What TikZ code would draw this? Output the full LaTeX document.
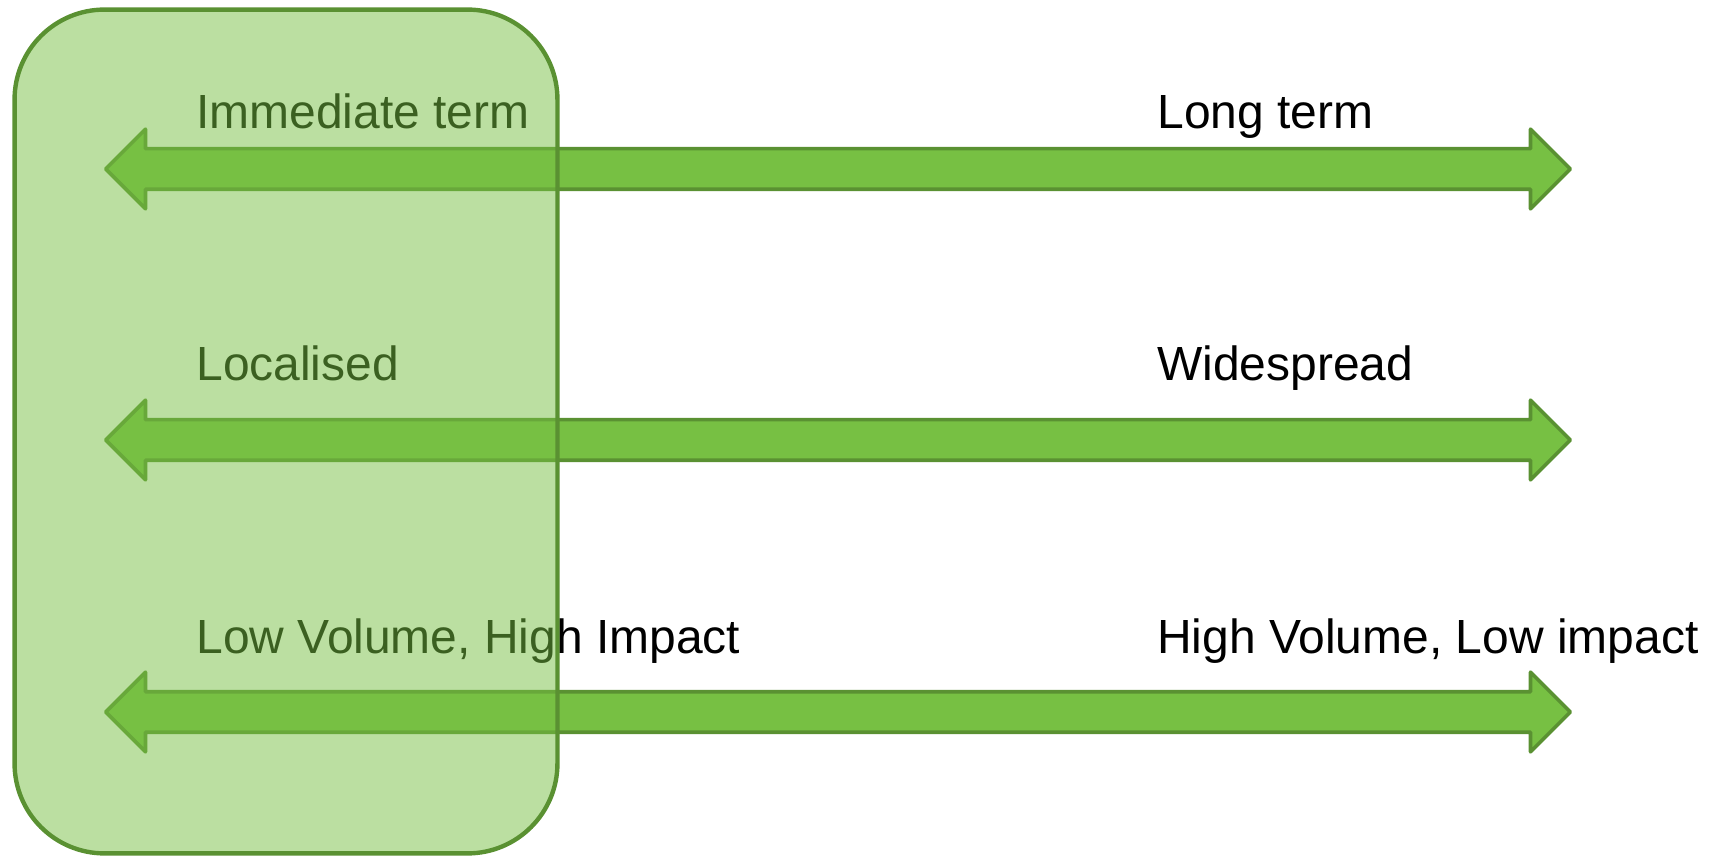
\documentclass[tikz,border=0pt]{standalone}
\usepackage{fontspec}
\setmainfont{Liberation Sans}
\usepackage{tikz}
\usetikzlibrary{positioning,shapes.arrows}
\definecolor{sfill}{HTML}{77C043}
\definecolor{sline}{HTML}{5A9132}
\tikzset{sarrow/.style={double arrow, draw=sline, fill=sfill, line width=2.1pt, line join=round,
  minimum height=29.3cm, inner xsep=0pt, inner ysep=0.37cm, double arrow head extend=0.39cm,
  double arrow tip angle=90, outer sep=0pt}}
\tikzset{slabel/.style={anchor=base west, inner sep=0pt, font=\fontsize{27.3}{32}\selectfont}}
\tikzset{sfocus/.style={rectangle, rounded corners=1.8cm, draw=sline, fill=sfill, fill opacity=0.5,
  line width=2.5pt, minimum width=10.86cm, minimum height=16.88cm, inner sep=0pt}}

\begin{document}
\begin{tikzpicture}[x=0.02cm, y=-0.02cm]
  \useasboundingbox (0,0) rectangle (1718,857);

  \node[sarrow] (term) at (838,169) {};
  \node[sarrow] (spread) at (838,440) {};
  \node[sarrow] (volume) at (838,712) {};

  \node[slabel] (immediate) at (196,129) {Immediate term};
  \node[slabel] (long) at (1157,129) {Long term};
  \node[slabel] (local) at (196,381) {Localised};
  \node[slabel] (wide) at (1157,381) {Widespread};
  \node[slabel] (lowvol) at (196,654) {Low Volume, High Impact};
  \node[slabel] (highvol) at (1157,654) {High Volume, Low impact};

  % shaded box over the left end of the scales
  \node[sfocus] (focus) at (286,431.5) {};
\end{tikzpicture}
\end{document}
